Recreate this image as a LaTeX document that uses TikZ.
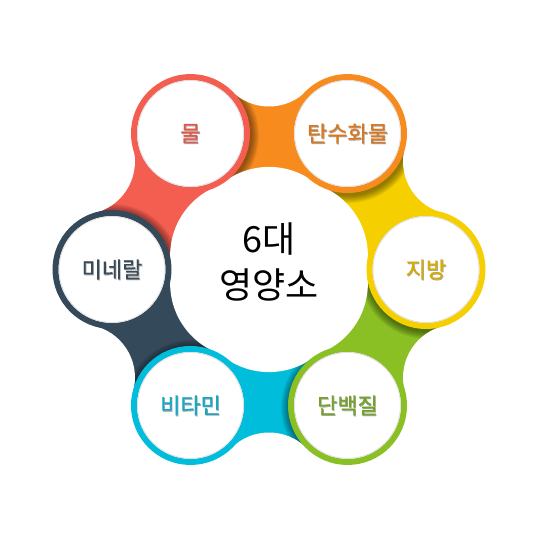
\documentclass[tikz,border=0pt]{standalone}
\usepackage{fontspec}
\setmainfont{Noto Sans CJK KR}
\newfontfamily\lblfont[FakeBold=0.5]{Noto Sans CJK KR}
\definecolor{cRed}{HTML}{F45E50}
\definecolor{cOrange}{HTML}{F78B1E}
\definecolor{cYellow}{HTML}{F6CF00}
\definecolor{cGreen}{HTML}{8AC023}
\definecolor{cCyan}{HTML}{00BEDB}
\definecolor{cDark}{HTML}{34495A}
\definecolor{tRed}{HTML}{E2584B}
\definecolor{tOrange}{HTML}{D97820}
\definecolor{tYellow}{HTML}{D6AC00}
\definecolor{tGreen}{HTML}{74A22A}
\definecolor{tCyan}{HTML}{17A8C4}
\definecolor{tDark}{HTML}{3A4A58}
\tikzset{
  ringnode/.style={circle, fill=white, line width=6pt, minimum size=113pt, inner sep=0pt},
  lbl/.style={font=\lblfont\fontsize{22}{26}\selectfont, inner sep=0pt},
  lblshadow/.style={lbl, text=black, opacity=0.3},
  centertxt/.style={font=\fontsize{36}{40}\selectfont, inner sep=0pt, text=black}
}
\begin{document}
\begin{tikzpicture}[x=1pt,y=1pt]
\useasboundingbox[fill=white] (-269,-270.5) rectangle (271,269.5);
\def\D{157}
\def\R{59.5}
\def\Do{216.3}
\def\ro{53.3}
\def\Di{28}
\def\ri{74.6}
% bridges
\foreach \a/\col in {120/cRed, 60/cOrange, 0/cYellow, -60/cGreen, -120/cCyan, 180/cDark}{
  \fill[\col] (\a:\D) -- ({\a+30}:\Do) -- ({\a+60}:\D) -- ({\a+30}:\Di) -- cycle;
  \begin{scope}
    \clip (\a:\D) -- ({\a+30}:\Do) -- ({\a+60}:\D) -- ({\a+30}:\Di) -- cycle;
    \foreach \i in {1,...,8}{
      \fill[black, opacity=0.06, shift={(1,-2)}] ({\a+60}:\D) circle[radius={\R+\i*1.0}];
    }
  \end{scope}
}
% white fillets
\foreach \a in {150, 90, 30, -30, -90, 210}{
  \fill[white] (\a:\Do) circle[radius=\ro];
  \fill[white] (\a:\Di) circle[radius=\ri];
}
% circles and labels
\foreach \a/\col/\tc/\nm/\txt in {120/cRed/tRed/mul/물, 60/cOrange/tOrange/tan/탄수화물, 0/cYellow/tYellow/ji/지방, -60/cGreen/tGreen/dan/단백질, -120/cCyan/tCyan/bi/비타민, 180/cDark/tDark/mi/미네랄}{
  \node[ringnode, draw=\col] (\nm) at (\a:\D) {};
  \draw[black!12, line width=0.9pt] (\nm.center) circle[radius=53];
  \node[lblshadow] at ([shift={(0.7,-0.9)}]\nm.center) {\txt};
  \node[lbl, text=\tc] (\nm-t) at (\nm.center) {\txt};
}
% center text
\node[centertxt] (t1) at (0,30.5) {6대};
\node[centertxt] (t2) at (0,-15.5) {영양소};
\end{tikzpicture}
\end{document}
